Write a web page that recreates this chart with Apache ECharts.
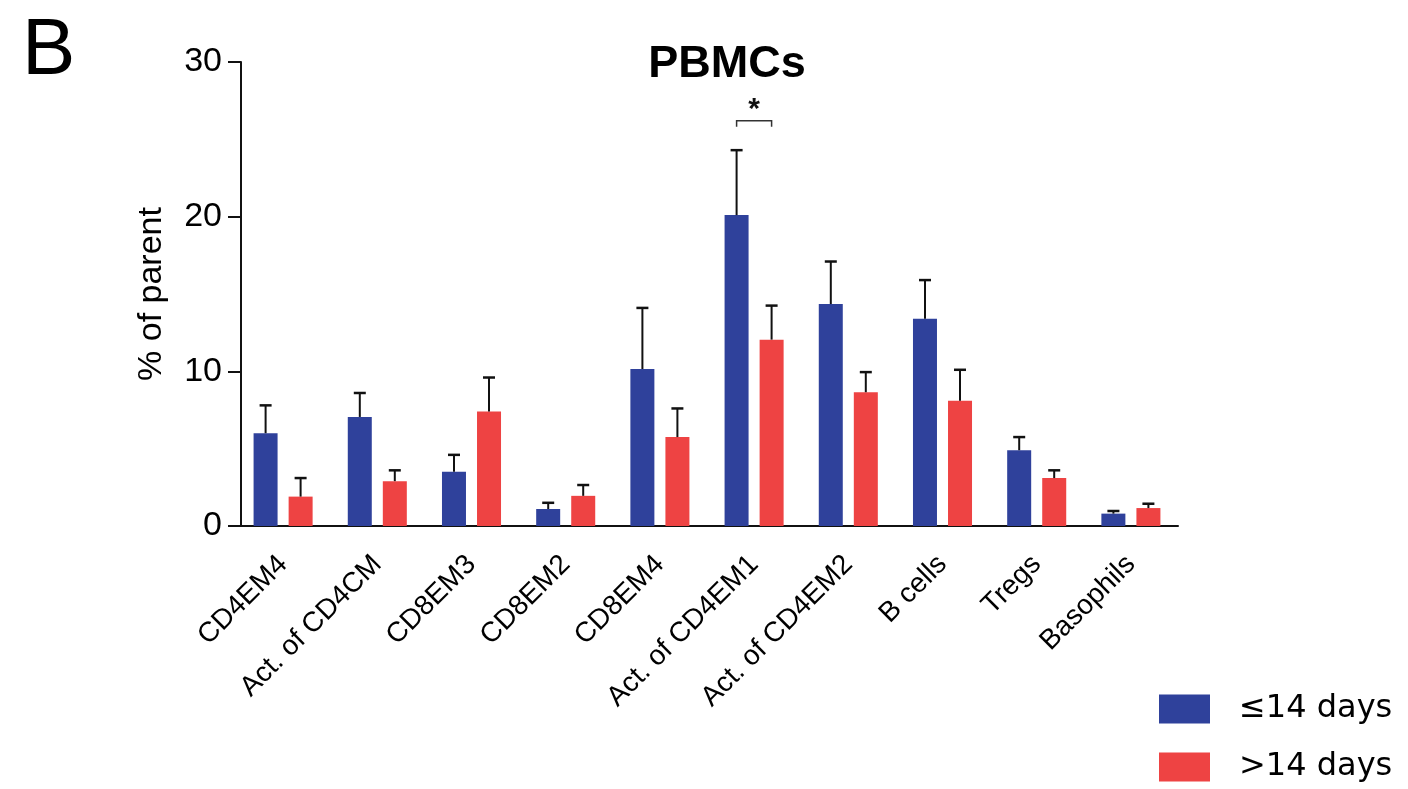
<!DOCTYPE html>
<html>
<head>
<meta charset="utf-8">
<script src="https://cdn.jsdelivr.net/npm/echarts@6/dist/echarts.min.js"></script>
<style>
  html, body { margin: 0; padding: 0; background: #fff; }
  #chart { width: 1408px; height: 789px; }
</style>
</head>
<body>
<div id="chart"></div>
<script>
// values
const categories = ['CD4EM4', 'Act. of CD4CM', 'CD8EM3', 'CD8EM2', 'CD8EM4',
  'Act. of CD4EM1', 'Act. of CD4EM2', 'B cells', 'Tregs', 'Basophils']
const shortMean = [6.0, 7.05, 3.5, 1.1, 10.15, 20.1, 14.35, 13.4, 4.9, 0.8]
const shortTop = [7.8, 8.6, 4.6, 1.5, 14.1, 24.3, 17.1, 15.9, 5.75, 0.97]
const longMean = [1.9, 2.9, 7.4, 1.95, 5.75, 12.05, 8.65, 8.1, 3.1, 1.16]
const longTop = [3.1, 3.6, 9.6, 2.65, 7.6, 14.25, 9.95, 10.1, 3.6, 1.44]
const sigIndex = [5]
const sigLevel = [26.2]
const sigLabel = ['*']
const yTicks = [0, 10, 20, 30]

const FONT = 'Liberation Sans, Arial, sans-serif'
const BLUE = '#2F419B'
const RED = '#EE4343'
const INK = '#111'
const SHIFT = 17.5 // half of (bar width + gap)

const chart = echarts.init(document.getElementById('chart'))

function errorBar(shift) {
  return function (params, api) {
    const i = api.value(0)
    const lo = api.coord([i, api.value(1)])
    const hi = api.coord([i, api.value(2)])
    const x = lo[0] + shift
    return {
      type: 'group',
      children: [
        { type: 'line', shape: { x1: x, y1: lo[1], x2: x, y2: hi[1] }, style: { stroke: INK, lineWidth: 2 } },
        { type: 'line', shape: { x1: x - 6, y1: hi[1], x2: x + 6, y2: hi[1] }, style: { stroke: INK, lineWidth: 2.5 } }
      ]
    }
  }
}

function sigBracket(params, api) {
  const p = api.coord([api.value(0), api.value(1)])
  const x1 = p[0] - SHIFT, x2 = p[0] + SHIFT, y = p[1]
  return {
    type: 'group',
    children: [
      { type: 'polyline', shape: { points: [[x1, y + 6], [x1, y], [x2, y], [x2, y + 6]] },
        style: { stroke: '#333', lineWidth: 1.5, fill: null } },
      { type: 'text', x: p[0], y: y + 4,
        style: { text: sigLabel[params.dataIndex], font: 'bold 30px ' + FONT, fill: INK,
          textAlign: 'center', textVerticalAlign: 'bottom' } }
    ]
  }
}

const option = {
  animation: false,
  backgroundColor: '#fff',
  title: {
    text: 'PBMCs',
    left: 722,
    top: 37,
    textAlign: 'center',
    textStyle: { fontFamily: FONT, fontSize: 45, fontWeight: 'bold', color: '#000' }
  },
  graphic: [{
    type: 'text', left: 22, top: 12,
    style: { text: 'B', font: '80px ' + FONT, fill: '#000' }
  }],
  legend: {
    data: ['≤14 days', '>14 days'],
    orient: 'vertical',
    left: 1154,
    top: 688,
    itemWidth: 51,
    itemHeight: 29,
    itemGap: 26,
    icon: 'rect',
    itemStyle: { borderWidth: 0 },
    textStyle: { fontFamily: 'DejaVu Sans, sans-serif', fontSize: 32, color: '#000', padding: [0, 0, 0, 24] }
  },
  grid: { left: 236, width: 942, top: 62, bottom: 263, containLabel: false },
  xAxis: {
    type: 'category',
    data: categories,
    axisLine: { lineStyle: { color: INK, width: 2 } },
    axisTick: { alignWithLabel: true, length: 13, lineStyle: { color: INK, width: 2 } },
    axisLabel: { interval: 0, rotate: 45, margin: 34, fontFamily: FONT, fontSize: 28, color: '#000' }
  },
  yAxis: {
    type: 'value',
    min: yTicks[0],
    max: yTicks[yTicks.length - 1],
    interval: 10,
    offset: -5,
    name: '% of parent',
    nameLocation: 'middle',
    nameRotate: 90,
    nameGap: 72,
    nameTextStyle: { fontFamily: FONT, fontSize: 34, color: '#000' },
    splitLine: { show: false },
    axisLine: { show: true, lineStyle: { color: INK, width: 2 } },
    axisTick: { show: true, length: 13, lineStyle: { color: INK, width: 2 } },
    axisLabel: { margin: 19, fontFamily: FONT, fontSize: 34, color: '#000' }
  },
  series: [
    { name: '≤14 days', type: 'bar', data: shortMean, barWidth: 24, barGap: '46%',
      itemStyle: { color: BLUE } },
    { name: '>14 days', type: 'bar', data: longMean, barWidth: 24,
      itemStyle: { color: RED } },
    { type: 'custom', renderItem: errorBar(-SHIFT), z: 3,
      data: shortMean.map((v, i) => [i, v, shortTop[i]]) },
    { type: 'custom', renderItem: errorBar(SHIFT), z: 3,
      data: longMean.map((v, i) => [i, v, longTop[i]]) },
    { type: 'custom', renderItem: sigBracket, z: 3,
      data: sigIndex.map((c, i) => [c, sigLevel[i]]) }
  ]
}

chart.setOption(option)
</script>
</body>
</html>
